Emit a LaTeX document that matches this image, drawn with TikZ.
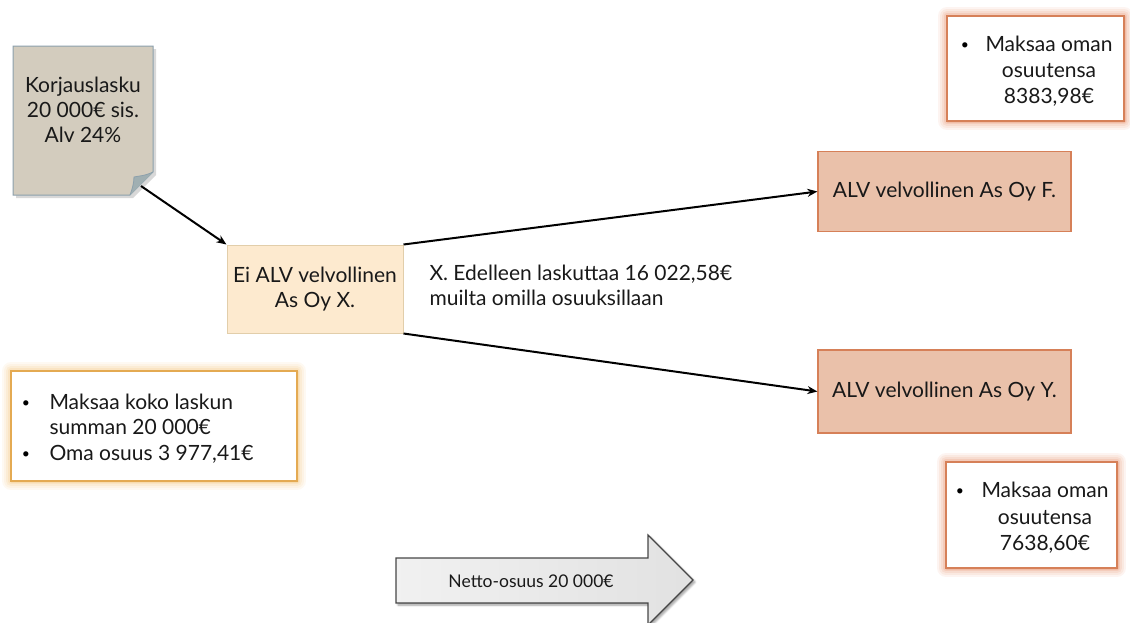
\documentclass[tikz,border=0pt]{standalone}
\usepackage{fontspec}
\setmainfont{Lato}
\usetikzlibrary{arrows.meta,shadows.blur}
\definecolor{notefill}{RGB}{211,204,190}
\definecolor{noteborder}{RGB}{140,160,172}
\definecolor{foldfill}{RGB}{160,175,178}
\definecolor{xfill}{RGB}{253,234,207}
\definecolor{xborder}{RGB}{226,206,170}
\definecolor{salfill}{RGB}{234,193,170}
\definecolor{salborder}{RGB}{214,128,88}
\definecolor{redglow}{RGB}{232,150,115}
\definecolor{goldborder}{RGB}{228,170,82}
\definecolor{goldglow}{RGB}{244,200,130}
\definecolor{arrowfill}{RGB}{240,240,240}
\definecolor{arrowborder}{RGB}{70,70,70}
\tikzset{
  txt/.style={font=\fontsize{21}{25}\selectfont, text=black!90, align=center},
  conn/.style={line width=2pt, -{Stealth[length=10pt,width=8pt]}},
  salbox/.style={draw=salborder, fill=salfill, line width=1.2pt, minimum width=253pt, minimum height=80pt, txt},
  glowbox/.style={fill=white, line width=1.2pt}
}
\newcommand{\glowrect}[3]{%
  \foreach \w/\o in {18/0.10,14/0.12,10/0.16,6/0.22,3/0.3}{\draw[#3, line width=\w pt, opacity=\o, line join=round] #1 rectangle #2;}%
}
\begin{document}
\begin{tikzpicture}[x=1pt,y=-1pt]
\useasboundingbox (0,0) rectangle (1130,622);
% note
\fill[black!30, opacity=0.5] (16,49) -- (156,49) -- (156,175) -- (133,198) -- (16,198) -- cycle;
\draw[fill=notefill, draw=noteborder, line width=1pt] (13,46) -- (153,46) -- (153,172) -- (130,195) -- (13,195) -- cycle;
\draw[fill=foldfill, draw=noteborder, line width=0.8pt] (153,172) .. controls (145,176) and (138,176) .. (134,177) .. controls (134,183) and (132,190) .. (130,195);
\node[txt] (note) at (83,110) {Korjauslasku\\20 000€ sis.\\Alv 24\%};
\coordinate (notecorner) at (141,186);
% box X
\node[draw=xborder, fill=xfill, line width=1pt, minimum width=176pt, minimum height=88pt, txt] (bx) at (315,289) {Ei ALV velvollinen\\As Oy X.};
% F and Y
\node[salbox] (bf) at (944.5,191.5) {ALV velvollinen As Oy F.};
\node[salbox, minimum height=83pt] (by) at (944.5,391.5) {ALV velvollinen As Oy Y.};
% label
\node[txt, align=left, anchor=west] (lbl) at (426,285) {X. Edelleen laskuttaa 16 022,58€\\muilta omilla osuuksillaan};
% connectors
\draw[conn] (notecorner) -- (bx.north west);
\draw[conn] (bx.north east) -- (bf.west);
\draw[conn] (bx.south east) -- (by.west);
% top right glow box
\glowrect{(947,16)}{(1124,121)}{redglow}
\draw[glowbox, draw=salborder] (947,16) rectangle (1124,121);
\node[txt, anchor=base] (tr1) at (1049,51) {Maksaa oman};
\node[txt, anchor=base] (tr2) at (1049,77) {osuutensa};
\node[txt, anchor=base] (tr3) at (1049,103) {8383,98€};
\node[font=\fontsize{14}{16}\selectfont, anchor=base] (trb) at (965,49) {•};
% bottom right glow box
\glowrect{(946,462)}{(1117,568)}{redglow}
\draw[glowbox, draw=salborder] (946,462) rectangle (1117,568);
\node[txt, anchor=base] (br1) at (1045,497) {Maksaa oman};
\node[txt, anchor=base] (br2) at (1045,524) {osuutensa};
\node[txt, anchor=base] (br3) at (1045,550) {7638,60€};
\node[font=\fontsize{14}{16}\selectfont, anchor=base] (brb) at (960,495) {•};
% left glow box
\glowrect{(11,371)}{(297,481)}{goldglow}
\draw[glowbox, draw=goldborder] (11,371) rectangle (297,481);
\node[txt, anchor=base west] (lb1) at (46,409) {Maksaa koko laskun};
\node[txt, anchor=base west] (lb2) at (46,434) {summan 20 000€};
\node[txt, anchor=base west] (lb3) at (46,460) {Oma osuus 3 977,41€};
\node[font=\fontsize{14}{16}\selectfont, anchor=base] (b1) at (26,407) {•};
\node[font=\fontsize{14}{16}\selectfont, anchor=base] (b2) at (26,458) {•};
% big arrow
\path[blur shadow={shadow xshift=2pt,shadow yshift=-2pt,shadow blur steps=6}, left color=arrowfill!95!white, right color=arrowfill!94!black, draw=arrowborder, line width=1.2pt]
  (396,558) -- (648,558) -- (648,535) -- (693,580) -- (648,625) -- (648,603) -- (396,603) -- cycle;
\node[font=\fontsize{17.5}{20}\selectfont, text=black!90] (net) at (531,581) {Netto-osuus 20 000€};
\end{tikzpicture}
\end{document}
